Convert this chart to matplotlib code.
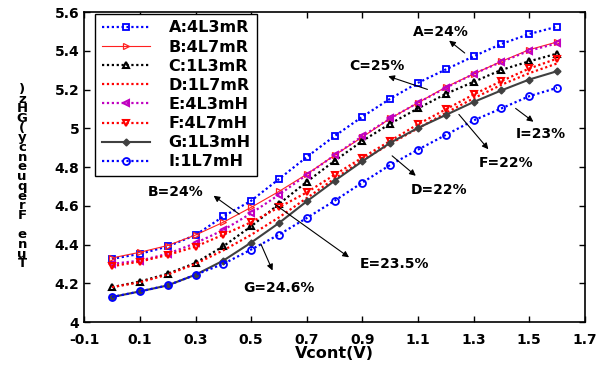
import matplotlib
matplotlib.use("Agg")
import matplotlib.pyplot as plt
import numpy as np

plt.rcParams['font.family'] = 'DejaVu Sans'
plt.rcParams['font.weight'] = 'bold'

# control voltage (V)
vcont = [0.0, 0.1, 0.2, 0.3, 0.4, 0.5, 0.6, 0.7, 0.8, 0.9, 1.0, 1.1, 1.2, 1.3, 1.4, 1.5, 1.6]

# tuned frequency (GHz) per variant
f_A = [4.326, 4.352, 4.390, 4.449, 4.545, 4.626, 4.738, 4.852, 4.960, 5.060, 5.153, 5.235, 5.304, 5.372, 5.436, 5.487, 5.525]
f_B = [4.331, 4.360, 4.395, 4.449, 4.515, 4.592, 4.674, 4.763, 4.861, 4.955, 5.051, 5.132, 5.213, 5.281, 5.346, 5.406, 5.446]
f_C = [4.180, 4.209, 4.249, 4.305, 4.391, 4.494, 4.609, 4.724, 4.832, 4.935, 5.024, 5.103, 5.178, 5.240, 5.302, 5.346, 5.386]
f_D = [4.180, 4.205, 4.245, 4.300, 4.370, 4.450, 4.540, 4.640, 4.740, 4.835, 4.920, 5.000, 5.080, 5.155, 5.225, 5.285, 5.335]
f_E = [4.300, 4.317, 4.352, 4.407, 4.475, 4.561, 4.657, 4.760, 4.861, 4.960, 5.051, 5.132, 5.209, 5.281, 5.343, 5.401, 5.439]
f_F = [4.288, 4.312, 4.346, 4.389, 4.451, 4.515, 4.592, 4.669, 4.760, 4.849, 4.935, 5.021, 5.098, 5.175, 5.244, 5.309, 5.360]
f_G = [4.129, 4.158, 4.189, 4.244, 4.317, 4.410, 4.511, 4.623, 4.729, 4.830, 4.925, 5.002, 5.069, 5.136, 5.196, 5.252, 5.295]
f_I = [4.129, 4.158, 4.189, 4.244, 4.300, 4.374, 4.451, 4.537, 4.626, 4.720, 4.811, 4.890, 4.966, 5.041, 5.103, 5.166, 5.209]

labels = ["A:4L3mR", "B:4L7mR", "C:1L3mR", "D:1L7mR",
          "E:4L3mH", "F:4L7mH", "G:1L3mH", "I:1L7mH"]

x_ticks = [-0.1, 0.1, 0.3, 0.5, 0.7, 0.9, 1.1, 1.3, 1.5, 1.7]
y_ticks = [4, 4.2, 4.4, 4.6, 4.8, 5, 5.2, 5.4, 5.6]

fig = plt.figure(figsize=(6.15, 3.68), dpi=100)
ax = fig.add_axes([0.137, 0.125, 0.814, 0.842])

dot = (0, (1, 1.2))
ax.plot(vcont, f_A, color='#0000ff', ls=dot, lw=1.6, marker='s', ms=5, mfc='none', mew=1.3, label=labels[0])
ax.plot(vcont, f_B, color='#ff2020', ls='-', lw=0.8, marker='>', ms=5, mfc='none', mew=0.9, label=labels[1])
ax.plot(vcont, f_C, color='black', ls=dot, lw=1.6, marker='^', ms=5, mfc='none', mew=1.5, label=labels[2])
ax.plot(vcont, f_D, color='#ff0000', ls=dot, lw=1.6, label=labels[3])
ax.plot(vcont, f_E, color='#c000c0', ls=dot, lw=1.6, marker='<', ms=5, mfc='none', mew=1.5, label=labels[4])
ax.plot(vcont, f_F, color='#ff0000', ls=dot, lw=1.6, marker='v', ms=5, mfc='none', mew=1.5, label=labels[5])
ax.plot(vcont, f_G, color='#404040', ls='-', lw=1.5, marker='D', ms=3.5, label=labels[6])
ax.plot(vcont, f_I, color='#0000ff', ls=dot, lw=1.6, marker='o', ms=5, mfc='none', mew=1.3, label=labels[7])

ax.set_xlim(-0.1, 1.7)
ax.set_ylim(4, 5.6)
ax.set_xticks(x_ticks)
ax.set_xticklabels(["%g" % t for t in x_ticks])
ax.set_yticks(y_ticks)
ax.set_yticklabels(["%g" % t for t in y_ticks])
ax.tick_params(direction='in', top=True, right=True, labelsize=10, length=4, width=1)
ax.tick_params(axis='x', pad=8)
for s in ax.spines.values():
    s.set_linewidth(1.2)

ax.set_xlabel("Vcont(V)", fontsize=11.5, fontweight='bold', labelpad=-1)

# y label drawn as a stacked column of upright characters
ylab = "Tune Frequency(GHz)"
fig.text(0.036, 0.52, "\n".join(reversed(ylab)), fontsize=9.5, fontweight='bold',
         ha='center', va='center', linespacing=0.67, multialignment='center')

leg = ax.legend(loc='upper left', bbox_to_anchor=(0.022, 0.994), borderaxespad=0,
                fancybox=False, edgecolor='black', framealpha=1, fontsize=11.5,
                handlelength=3.0, handletextpad=1.2, labelspacing=0.26, borderpad=0.4)
leg.get_frame().set_linewidth(1.0)

notes = [
    ("A=24%", (1.184, 5.497), (1.212, 5.453), (1.268, 5.389)),
    ("C=25%", (0.951, 5.321), (0.993, 5.269), (1.134, 5.201)),
    ("B=24%", (0.227, 4.669), (0.365, 4.652), (0.457, 4.557)),
    ("E=23.5%", (1.014, 4.300), (0.852, 4.334), (0.584, 4.609)),
    ("G=24.6%", (0.601, 4.177), (0.577, 4.266), (0.535, 4.403)),
    ("D=22%", (1.176, 4.681), (1.092, 4.755), (1.007, 4.858)),
    ("F=22%", (1.416, 4.820), (1.353, 4.892), (1.247, 5.072)),
    ("I=23%", (1.543, 4.969), (1.515, 5.034), (1.451, 5.103)),
]
for txt, tpos, head, tail in notes:
    ax.text(tpos[0], tpos[1], txt, fontsize=10, fontweight='bold', ha='center', va='center')
    ax.annotate('', xy=head, xytext=tail,
                arrowprops=dict(arrowstyle='-|>', color='black', lw=0.8, mutation_scale=9,
                                shrinkA=0, shrinkB=0))

fig.savefig("out.png", dpi=100)
